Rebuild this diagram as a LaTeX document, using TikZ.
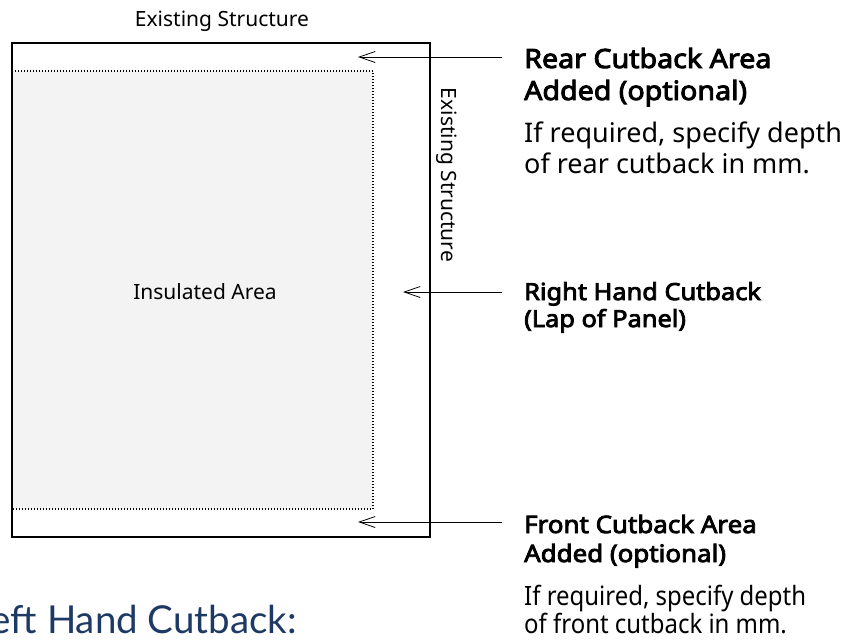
\documentclass[tikz,border=0pt]{standalone}
\usepackage{fontspec}
\setmainfont{Noto Sans}[BoldFont={Noto Sans},BoldFeatures={FakeBold=3.5,FakeStretch=1.08}]
\newfontfamily\condfont{Noto Sans}[FakeStretch=0.9]
\newfontfamily\headfont{Lato}
\usetikzlibrary{arrows.meta,positioning}
\definecolor{insulgray}{HTML}{F2F3F2}
\definecolor{headblue}{HTML}{1E3A64}

\begin{document}
\begin{tikzpicture}[x=1pt,y=-1pt,
		Plan/.style={line width=1.5pt},
		Dots/.style={line width=1.3pt,dash pattern=on 1pt off 2pt},
		Small/.style={inner sep=0pt,font=\fontsize{21}{21}\selectfont},
		Label/.style={anchor=base west,inner sep=0pt,align=left},
		Arrow/.style={-{Straight Barb[length=16pt,width=11pt]},line width=0.8pt}]
		\useasboundingbox (0,0) rectangle (843,641);
		% plan
		\fill[insulgray] (12,71) rectangle (373,509);
		\draw[Dots] (12,71) -- (373,71) -- (373,509) -- (12,509);
		\draw[Plan] (12,43) rectangle (430,537);
		% nodes (labels sit on the baseline of their last line)
		\node[Small] (TopStruct) at (222,21) {Existing Structure};
		\node[Small,rotate=-90] (SideStruct) at (447,175) {Existing Structure};
		\node[Small] (Insulated) at (205,292) {Insulated Area};
		\node[Label,font=\bfseries\fontsize{26.5}{32}\selectfont] (Rear) at (524,100) {Rear Cutback Area\\Added (optional)};
		\node[Label,font=\fontsize{27}{31}\selectfont] (RearNote) at (524,173) {If required, specify depth\\of rear cutback in mm.};
		\node[Label,font=\bfseries\fontsize{23.5}{27}\selectfont] (Right) at (524,327) {Right Hand Cutback\\(Lap of Panel)};
		\node[Label,font=\bfseries\fontsize{24}{29}\selectfont] (Front) at (524,562) {Front Cutback Area\\Added (optional)};
		\node[Label,font=\condfont\fontsize{26.6}{28}\selectfont] (FrontNote) at (524,633) {If required, specify depth\\of front cutback in mm.};
		\node[inner sep=0pt,anchor=base east,text=headblue,font=\headfont\fontsize{38.5}{38.5}\selectfont] (LeftHead) at (297,633) {Left Hand Cutback:};
		% connections
		\coordinate (RearTip) at (358,57);
		\coordinate (RightTip) at (403,292);
		\coordinate (FrontTip) at (358,522);
		\draw[Arrow] (502,57) -- (RearTip);
		\draw[Arrow] (502,292) -- (RightTip);
		\draw[Arrow] (502,522) -- (FrontTip);
	\end{tikzpicture}
\end{document}
